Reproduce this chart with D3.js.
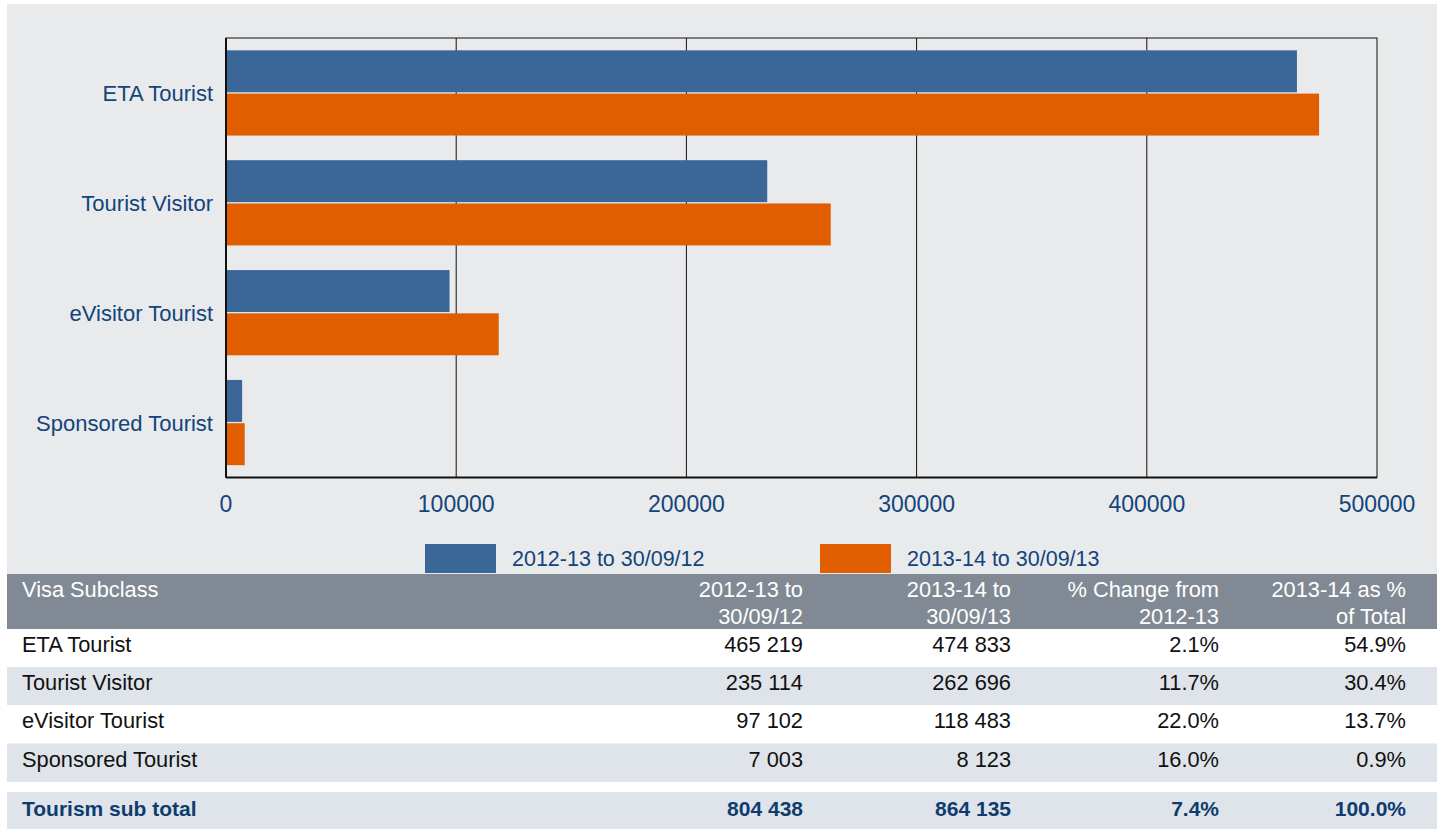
<!DOCTYPE html>
<html>
<head>
<meta charset="utf-8">
<script src="https://cdn.jsdelivr.net/npm/d3@7"></script>
<style>
  html, body { margin: 0; padding: 0; background: #fff; }
  svg { display: block; font-family: "Liberation Sans", Arial, sans-serif; }
</style>
</head>
<body>
<div id="chart"></div>
<script>
// Visa grants by tourism subclass, to 30 September
var categories = ["ETA Tourist", "Tourist Visitor", "eVisitor Tourist", "Sponsored Tourist"];
var seriesNames = ["2012-13 to 30/09/12", "2013-14 to 30/09/13"];
var values1213 = [465219, 235114, 97102, 7003];
var values1314 = [474833, 262696, 118483, 8123];
var pctChange = [2.1, 11.7, 22.0, 16.0];
var pctOfTotal = [54.9, 30.4, 13.7, 0.9];
var totalLabel = "Tourism sub total";
var totals = [804438, 864135, 7.4, 100.0];
var xTicks = [0, 100000, 200000, 300000, 400000, 500000];
var headerLines = [
    ["Visa Subclass"],
    ["2012-13 to", "30/09/12"],
    ["2013-14 to", "30/09/13"],
    ["% Change from", "2012-13"],
    ["2013-14 as %", "of Total"]
];

(function () {
    "use strict";

    var W = 1440, H = 829;
    var labelBlue = "#13447a";
    var colors = ["#3a6698", "#e05e00"];

    var svg = d3.select("#chart").append("svg")
        .attr("width", W).attr("height", H);

    // chart panel background
    svg.append("rect")
        .attr("x", 7).attr("y", 4)
        .attr("width", 1430).attr("height", 570)
        .attr("fill", "#e9eaec");

    var plot = { left: 226, right: 1377, top: 38, bottom: 477.5 };

    var x = d3.scaleLinear().domain([0, 500000]).range([plot.left, plot.right]);
    var y = d3.scaleBand().domain(categories)
        .range([plot.top, plot.bottom]).paddingInner(0).paddingOuter(0);
    // two bars per category, ~42px each with a thin gap
    var inner = d3.scaleBand().domain([0, 1])
        .range([0, y.bandwidth()]).paddingInner(0.03).paddingOuter(0.285);

    // vertical grid
    svg.append("g")
        .selectAll("line")
        .data(xTicks.slice(1, -1))
        .join("line")
        .attr("x1", function (d) { return x(d); })
        .attr("x2", function (d) { return x(d); })
        .attr("y1", plot.top).attr("y2", plot.bottom)
        .attr("stroke", "#111").attr("stroke-width", 1);

    // plot frame
    svg.append("rect")
        .attr("x", plot.left).attr("y", plot.top)
        .attr("width", plot.right - plot.left)
        .attr("height", plot.bottom - plot.top)
        .attr("fill", "none").attr("stroke", "#111").attr("stroke-width", 1);

    // bars
    var series = [values1213, values1314];
    series.forEach(function (vals, si) {
        svg.append("g")
            .selectAll("rect")
            .data(vals)
            .join("rect")
            .attr("x", x(0))
            .attr("y", function (d, i) { return y(categories[i]) + inner(si); })
            .attr("width", function (d) { return x(d) - x(0); })
            .attr("height", inner.bandwidth())
            .attr("fill", colors[si]);
    });

    // axis lines (left + bottom, heavier)
    svg.append("line")
        .attr("x1", plot.left).attr("x2", plot.left)
        .attr("y1", plot.top).attr("y2", plot.bottom)
        .attr("stroke", "#111").attr("stroke-width", 2);
    svg.append("line")
        .attr("x1", plot.left).attr("x2", plot.right)
        .attr("y1", plot.bottom).attr("y2", plot.bottom)
        .attr("stroke", "#111").attr("stroke-width", 2);

    // x tick labels
    svg.append("g")
        .selectAll("text")
        .data(xTicks)
        .join("text")
        .attr("x", function (d) { return x(d); })
        .attr("y", 512)
        .attr("text-anchor", "middle")
        .attr("fill", labelBlue)
        .attr("font-size", 23)
        .text(function (d) { return d; });

    // category labels
    svg.append("g")
        .selectAll("text")
        .data(categories)
        .join("text")
        .attr("x", 213)
        .attr("y", function (d) { return y(d) + y.bandwidth() / 2 + 8; })
        .attr("text-anchor", "end")
        .attr("fill", labelBlue)
        .attr("font-size", 22)
        .text(function (d) { return d; });

    // legend
    var legendX = [425, 820];
    var legend = svg.append("g").selectAll("g")
        .data(seriesNames)
        .join("g")
        .attr("transform", function (d, i) { return "translate(" + legendX[i] + ",544)"; });
    legend.append("rect")
        .attr("width", 71).attr("height", 29)
        .attr("fill", function (d, i) { return colors[i]; });
    legend.append("text")
        .attr("x", 87).attr("y", 22)
        .attr("fill", labelBlue)
        .attr("font-size", 21.5)
        .text(function (d) { return d; });

    // ---- table ----
    var fmtInt = d3.formatLocale({ decimal: ".", thousands: " ", grouping: [3], currency: ["", ""] }).format(",d");
    var fmtPct = function (v) { return v.toFixed(1) + "%"; };

    var tableLeft = 7, tableRight = 1437;
    var colRight = [null, 803, 1011, 1219, 1406];
    var textLeft = 22;
    var tableFont = 21.8;

    // header
    svg.append("rect")
        .attr("x", tableLeft).attr("y", 574)
        .attr("width", tableRight - tableLeft).attr("height", 55)
        .attr("fill", "#818a94");

    var header = svg.append("g").selectAll("text")
        .data(headerLines)
        .join("text")
        .attr("x", function (d, i) { return i === 0 ? textLeft : colRight[i]; })
        .attr("text-anchor", function (d, i) { return i === 0 ? "start" : "end"; })
        .attr("fill", "#ffffff")
        .attr("font-size", tableFont);
    header.selectAll("tspan")
        .data(function (d) { return d; })
        .join("tspan")
        .attr("x", function () { return d3.select(this.parentNode).attr("x"); })
        .attr("y", function (d, j) { return 597 + j * 27; })
        .text(function (d) { return d; });

    // body rows
    var rowTop = [629, 667, 705, 743.5];
    var rowH = 38.5;
    var rows = categories.map(function (c, i) {
        return [c, fmtInt(values1213[i]), fmtInt(values1314[i]), fmtPct(pctChange[i]), fmtPct(pctOfTotal[i])];
    });

    var rowG = svg.append("g").selectAll("g")
        .data(rows)
        .join("g")
        .attr("transform", function (d, i) { return "translate(0," + rowTop[i] + ")"; });
    rowG.append("rect")
        .attr("x", tableLeft).attr("width", tableRight - tableLeft)
        .attr("height", rowH)
        .attr("fill", function (d, i) { return i % 2 ? "#dfe4ea" : "#ffffff"; });
    rowG.selectAll("text")
        .data(function (d) { return d; })
        .join("text")
        .attr("x", function (d, i) { return i === 0 ? textLeft : colRight[i]; })
        .attr("y", 23)
        .attr("text-anchor", function (d, i) { return i === 0 ? "start" : "end"; })
        .attr("fill", "#111")
        .attr("font-size", tableFont)
        .text(function (d) { return d; });

    // total row
    var totalRow = [totalLabel, fmtInt(totals[0]), fmtInt(totals[1]), fmtPct(totals[2]), fmtPct(totals[3])];
    var totG = svg.append("g").attr("transform", "translate(0,792)");
    totG.append("rect")
        .attr("x", tableLeft).attr("width", tableRight - tableLeft)
        .attr("height", 37)
        .attr("fill", "#dfe4ea");
    totG.selectAll("text")
        .data(totalRow)
        .join("text")
        .attr("x", function (d, i) { return i === 0 ? textLeft : colRight[i]; })
        .attr("y", 24)
        .attr("text-anchor", function (d, i) { return i === 0 ? "start" : "end"; })
        .attr("fill", "#0e3c6e")
        .attr("font-size", 21)
        .attr("font-weight", "bold")
        .text(function (d) { return d; });
})();
</script>
</body>
</html>
